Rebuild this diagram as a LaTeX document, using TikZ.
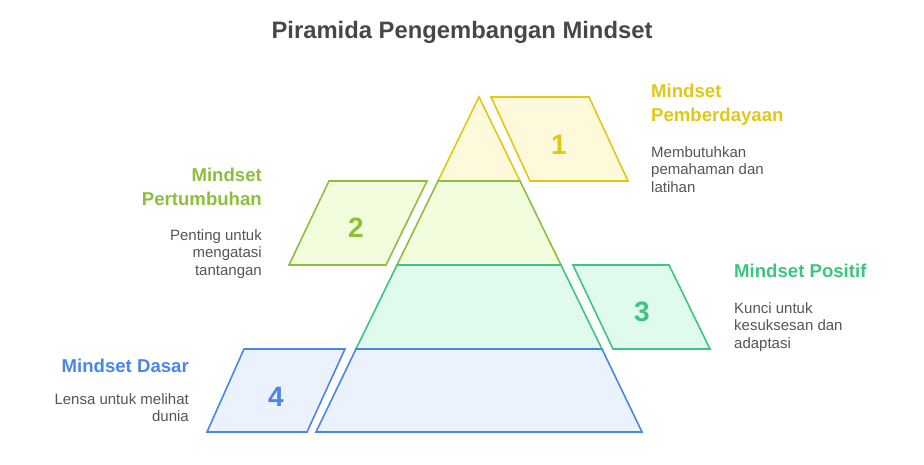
\documentclass[tikz,border=0pt]{standalone}
\usepackage{fontspec}
\setmainfont{Liberation Sans}
\usepackage{xcolor}
\usetikzlibrary{positioning}

\definecolor{yelline}{HTML}{E0C814}
\definecolor{yelfill}{HTML}{FFF9DB}
\definecolor{limline}{HTML}{8DBF3F}
\definecolor{limfill}{HTML}{F2FDDE}
\definecolor{grnline}{HTML}{3DC480}
\definecolor{grnfill}{HTML}{E0FBEE}
\definecolor{bluline}{HTML}{4A86E8}
\definecolor{blufill}{HTML}{EBF2FD}
\definecolor{txtgray}{HTML}{555555}
\definecolor{ttlgray}{HTML}{474747}

\tikzset{
  level/.style={line width=1.6pt, line join=miter},
  num/.style={font=\fontsize{28}{30}\selectfont\bfseries, inner sep=0pt},
  head/.style={font=\fontsize{18.6}{24}\selectfont\bfseries, inner sep=0pt},
  desc/.style={font=\fontsize{15}{17.8}\selectfont, text=txtgray, inner sep=0pt}
}

\begin{document}
\begin{tikzpicture}[x=1pt, y=-1pt]
\useasboundingbox (0,0) rectangle (924,464);

% Title
\node[font=\fontsize{23.8}{28}\selectfont\bfseries, text=ttlgray] (title) at (462,32) {Piramida Pengembangan Mindset};

% Level 1
\draw[level, draw=yelline, fill=yelfill] (479,97) -- (520,181) -- (438,181) -- cycle;
\draw[level, draw=yelline, fill=yelfill] (491,97) -- (589,97) -- (628,181) -- (530,181) -- cycle;
\node[num, text=yelline] (n1) at (559,145) {1};
\node[head, text=yelline, anchor=north west, align=left] (h1) at (651,84) {Mindset\\Pemberdayaan};
\node[desc, anchor=north west, align=left] (d1) at (651,146) {Membutuhkan\\pemahaman dan\\latihan};

% Level 2
\draw[level, draw=limline, fill=limfill] (438,181) -- (520,181) -- (561,265) -- (397,265) -- cycle;
\draw[level, draw=limline, fill=limfill] (329,181) -- (427,181) -- (386,265) -- (289,265) -- cycle;
\node[num, text=limline] (n2) at (356,228) {2};
\node[head, text=limline, anchor=north east, align=right] (h2) at (262,168) {Mindset\\Pertumbuhan};
\node[desc, anchor=north east, align=right] (d2) at (262,229) {Penting untuk\\mengatasi\\tantangan};

% Level 3
\draw[level, draw=grnline, fill=grnfill] (397,265) -- (561,265) -- (602,349) -- (356,349) -- cycle;
\draw[level, draw=grnline, fill=grnfill] (573,265) -- (669,265) -- (710,349) -- (613,349) -- cycle;
\node[num, text=grnline] (n3) at (642,312) {3};
\node[head, text=grnline, anchor=north west] (h3) at (734,264) {Mindset Positif};
\node[desc, anchor=north west, align=left] (d3) at (734,302) {Kunci untuk\\kesuksesan dan\\adaptasi};

% Level 4
\draw[level, draw=bluline, fill=blufill] (356,349) -- (602,349) -- (642,432) -- (316,432) -- cycle;
\draw[level, draw=bluline, fill=blufill] (244,349) -- (345,349) -- (307,432) -- (207,432) -- cycle;
\node[num, text=bluline] (n4) at (276,397) {4};
\node[head, text=bluline, anchor=north east] (h4) at (189,359) {Mindset Dasar};
\node[desc, anchor=north east, align=right] (d4) at (189,393) {Lensa untuk melihat\\dunia};
\end{tikzpicture}
\end{document}
